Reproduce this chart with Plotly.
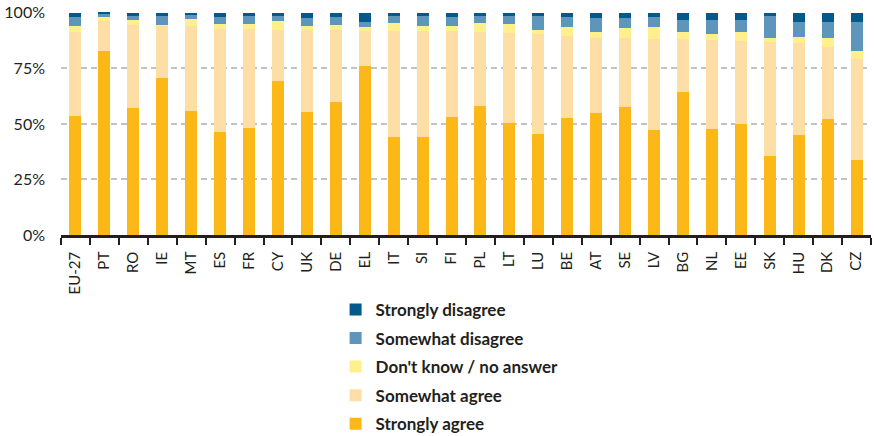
import plotly.graph_objects as go

countries = ["EU-27", "PT", "RO", "IE", "MT", "ES", "FR", "CY", "UK", "DE", "EL", "IT", "SI", "FI",
             "PL", "LT", "LU", "BE", "AT", "SE", "LV", "BG", "NL", "EE", "SK", "HU", "DK", "CZ"]

strongly_agree = [53.7, 82.8, 57.3, 70.7, 56.0, 46.6, 48.4, 69.4, 55.5, 60.0, 76.1, 44.3, 43.9, 53.3,
                  58.2, 50.6, 45.7, 52.8, 55.1, 57.8, 47.5, 64.5, 47.9, 50.1, 35.4, 45.2, 52.4, 33.6]
somewhat_agree = [37.6, 13.5, 37.2, 23.5, 38.0, 46.1, 44.3, 22.8, 36.7, 32.2, 15.7, 47.5, 47.9, 38.5,
                  33.1, 40.3, 44.7, 36.8, 33.6, 30.9, 40.7, 23.7, 39.9, 37.2, 51.5, 41.2, 32.2, 45.7]
dont_know = [2.7, 1.8, 2.2, 0.4, 3.2, 2.2, 2.2, 4.1, 1.8, 2.3, 1.8, 3.6, 2.2, 2.2,
             4.1, 4.0, 1.8, 4.0, 2.6, 4.4, 5.4, 3.1, 2.6, 4.0, 1.8, 2.7, 4.1, 3.5]
somewhat_disagree = [4.1, 1.4, 1.8, 3.9, 1.9, 3.2, 3.6, 2.2, 3.6, 3.6, 2.2, 3.1, 4.5, 4.1,
                     3.1, 3.6, 6.3, 4.5, 6.3, 4.5, 4.5, 5.4, 6.3, 5.4, 9.8, 6.7, 7.1, 13.0]
strongly_disagree = [1.9, 0.5, 1.5, 1.5, 0.9, 1.9, 1.5, 1.5, 2.4, 1.9, 4.2, 1.5, 1.5, 1.9,
                     1.5, 1.5, 1.5, 1.9, 2.4, 2.4, 1.9, 3.3, 3.3, 3.3, 1.5, 4.2, 4.2, 4.2]

y_tickvals = [0, 25, 50, 75, 100]
y_ticktext = ["0%", "25%", "50%", "75%", "100%"]

series = [
    ("Strongly agree", strongly_agree, "#FBB817"),
    ("Somewhat agree", somewhat_agree, "#FDDEA4"),
    ("Don't know / no answer", dont_know, "#FFF08C"),
    ("Somewhat disagree", somewhat_disagree, "#5E96BB"),
    ("Strongly disagree", strongly_disagree, "#02598A"),
]

fig = go.Figure()
n = len(series)
for i, (name, vals, color) in enumerate(series):
    fig.add_trace(go.Bar(
        x=countries, y=vals, name=name, legendgroup=name, legendrank=n - i,
        marker=dict(color=color, line=dict(width=0)),
        hovertemplate="%{x}: %{y}%<extra>" + name + "</extra>",
    ))

fig.update_layout(
    width=874, height=436,
    barmode="stack", bargap=0.586,
    plot_bgcolor="white", paper_bgcolor="white",
    margin=dict(l=61, r=3, t=12, b=201, autoexpand=False),
    showlegend=True,
    legend=dict(
        traceorder="grouped", tracegroupgap=3.5,
        x=0.339, xanchor="left", y=-0.255, yanchor="top",
        font=dict(family="Lato", size=17, color="#231F20", weight="bold"),
        bgcolor="rgba(0,0,0,0)",
    ),
    xaxis=dict(
        automargin=False,
        showline=True, linecolor="#231F20", linewidth=2.5,
        ticks="outside", tickson="boundaries", ticklen=7, tickwidth=2, tickcolor="#231F20",
        tickangle=-90, ticklabelstandoff=8,
        tickfont=dict(family="Lato", size=15, color="#231F20"),
        showgrid=False,
    ),
    yaxis=dict(
        automargin=False,
        range=[0, 100.4], tickmode="array", tickvals=y_tickvals, ticktext=y_ticktext,
        showgrid=True, gridcolor="#C3C3C3", gridwidth=1.5, griddash="6px,4px",
        zeroline=False, showline=False, ticks="",
        ticklabelstandoff=15,
        tickfont=dict(family="Lato", size=16, color="#231F20"),
    ),
)

# remove the browser's default 8px page margin so the figure fills the window exactly
fig.write_html("out.html", config={"displayModeBar": False},
               post_script="document.body.style.margin='0';")
